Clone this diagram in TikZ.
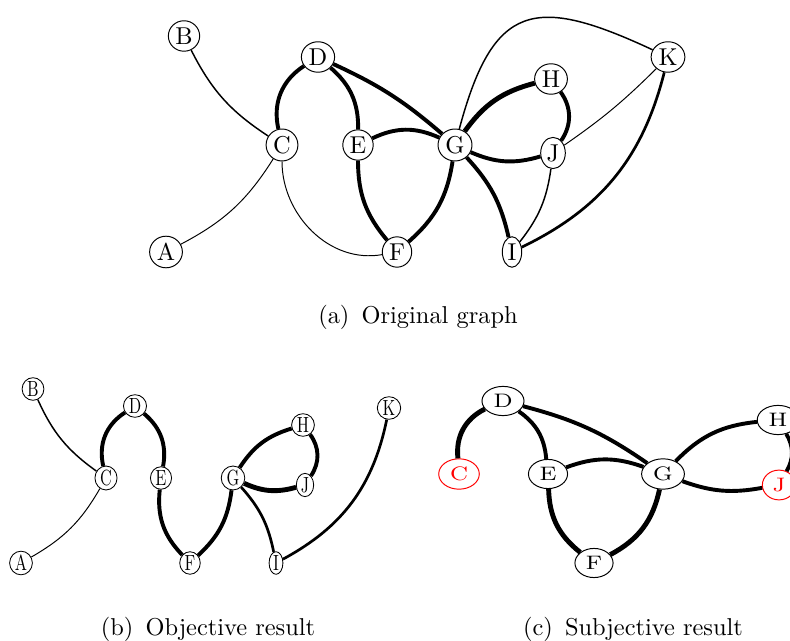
\documentclass[tikz,border=0pt]{standalone}
\usepackage{amsmath}
\usepackage{xcolor}
\usepackage{graphicx}
\usepackage{tikz}
\usetikzlibrary{positioning,shapes.geometric}

\newcommand{\slim}[1]{\scalebox{0.72}[1]{#1}}
\newcommand{\wide}[1]{\scalebox{1.2}[1]{#1}}

\begin{document}
\begin{tikzpicture}[x=0.01441cm,y=-0.01441cm,
  vtx/.style={draw,ellipse,fill=white,inner sep=1pt,line width=0.4pt},
  vtxs/.style={draw,ellipse,fill=white,inner xsep=0.8pt,inner ysep=0.2pt,line width=0.35pt,font=\small},
  vtxw/.style={draw,ellipse,fill=white,inner xsep=2.2pt,inner ysep=1.5pt,line width=0.4pt,font=\footnotesize},
  hot/.style={draw=red,text=red},
  hair/.style={line width=0.4pt},
  lite/.style={line width=0.6pt},
  mid/.style={line width=1.1pt},
  bold/.style={line width=1.6pt},
  heavy/.style={line width=2pt}
]
\useasboundingbox (0,0) rectangle (790,641);

% (a) original graph
\node[vtx] (B) at (184,36) {B};
\node[vtx] (D) at (318,57) {D};
\node[vtx] (C) at (282,145) {C};
\node[vtx] (E) at (358,145) {E};
\node[vtx] (G) at (455,145) {G};
\node[vtx] (H) at (551,79) {H};
\node[vtx] (J) at (553,153) {J};
\node[vtx] (K) at (668,57) {K};
\node[vtx] (A) at (166,252) {A};
\node[vtx] (F) at (397,252) {F};
\node[vtx] (I) at (512,252) {I};

\draw[lite] (B) to[bend right=15] (C);
\draw[hair] (A) to[bend right=15] (C);
\draw[hair] (C) to[out=-90,in=190] (F);
\draw[bold] (C) to[bend left=35] (D);
\draw[bold] (D) to[bend left=25] (E);
\draw[bold] (D) to[bend left=8] (G);
\draw[bold] (E) to[bend left=25] (G);
\draw[bold] (E) to[bend right=20] (F);
\draw[bold] (F) to[bend right=20] (G);
\draw[lite] (G) to[out=75,in=155,looseness=1.6] (K);
\draw[heavy] (G) to[bend left=20] (H);
\draw[bold] (G) to[bend right=20] (J);
\draw[bold] (H) to[bend left=35] (J);
\draw[hair] (J) to[bend right=5] (K);
\draw[bold] (G) to[bend left=15] (I);
\draw[lite] (J) to[bend left=15] (I);
\draw[mid] (K) to[bend left=25] (I);

\node (capa) at (418,317) {(a)\enspace Original graph};

% (b) objective result
\node[vtxs] (bB) at (33,389) {\slim{B}};
\node[vtxs] (bD) at (135,406) {\slim{D}};
\node[vtxs] (bK) at (389,408) {\slim{K}};
\node[vtxs] (bH) at (303,425) {\slim{H}};
\node[vtxs] (bC) at (106,478) {\slim{C}};
\node[vtxs] (bE) at (161,478) {\slim{E}};
\node[vtxs] (bG) at (233,478) {\slim{G}};
\node[vtxs] (bJ) at (305,485) {\slim{J}};
\node[vtxs] (bA) at (21,563) {\slim{A}};
\node[vtxs] (bF) at (190,563) {\slim{F}};
\node[vtxs] (bI) at (276,563) {\slim{I}};

\draw[lite] (bB) to[bend right=15] (bC);
\draw[hair] (bA) to[bend right=15] (bC);
\draw[bold] (bC) to[bend left=35] (bD);
\draw[bold] (bD) to[bend left=30] (bE);
\draw[bold] (bE) to[bend right=25] (bF);
\draw[bold] (bF) to[bend right=20] (bG);
\draw[bold] (bG) to[bend left=20] (bH);
\draw[bold] (bH) to[bend left=35] (bJ);
\draw[heavy] (bG) to[bend right=20] (bJ);
\draw[mid] (bG) to[bend left=15] (bI);
\draw[mid] (bK) to[bend left=25] (bI);

\node (capb) at (208,629) {(b)\enspace Objective result};

% (c) subjective result
\node[vtxw] (cD) at (503,401) {\wide{D}};
\node[vtxw,hot] (cC) at (459,474) {\wide{C}};
\node[vtxw] (cE) at (548,474) {\wide{E}};
\node[vtxw] (cG) at (663,474) {\wide{G}};
\node[vtxw] (cH) at (778,420) {\wide{H}};
\node[vtxw,hot] (cJ) at (779,485) {\wide{J}};
\node[vtxw] (cF) at (594,563) {\wide{F}};

\draw[heavy] (cC) to[bend left=35] (cD);
\draw[bold] (cD) to[bend left=25] (cE);
\draw[bold] (cD) to[bend left=10] (cG);
\draw[bold] (cE) to[bend left=20] (cG);
\draw[heavy] (cE) to[bend right=25] (cF);
\draw[heavy] (cF) to[bend right=25] (cG);
\draw[bold] (cG) to[bend left=20] (cH);
\draw[bold] (cG) to[bend right=15] (cJ);
\draw[bold] (cH) to[bend left=30] (cJ);

\node (capc) at (633,629) {(c)\enspace Subjective result};
\end{tikzpicture}
\end{document}
